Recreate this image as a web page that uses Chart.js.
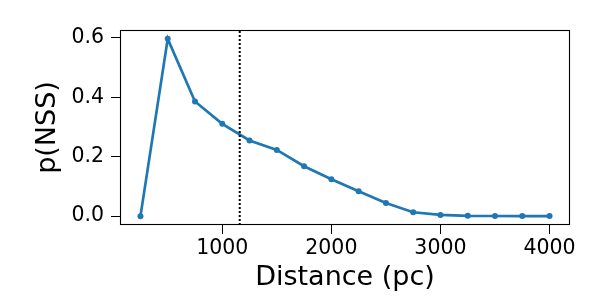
<!DOCTYPE html>
<html>
<head>
<meta charset="utf-8">
<script src="https://cdn.jsdelivr.net/npm/chart.js@4/dist/chart.umd.min.js"></script>
<style>
  html, body { margin: 0; padding: 0; background: #ffffff; }
  #wrap { width: 600px; height: 300px; }
</style>
</head>
<body>
<div id="wrap"><canvas id="c" width="600" height="300"></canvas></div>
<script>
// ---- data ----
const distances = [250, 500, 750, 1000, 1250, 1500, 1750, 2000, 2250, 2500, 2750, 3000, 3250, 3500, 3750, 4000];
const pNSS      = [0.0, 0.597, 0.386, 0.311, 0.255, 0.223, 0.168, 0.124, 0.084, 0.044, 0.013, 0.004, 0.001, 0.0005, 0.0003, 0.0002];
const thresholdDistance = 1160;
const xTickValues = [1000, 2000, 3000, 4000];
const yTickValues = [0.0, 0.2, 0.4, 0.6];
const xTitle = 'Distance (pc)';
const yTitle = 'p(NSS)';

// axis limits (matplotlib-like 5% margins)
const xMin = 62.5, xMax = 4187.5;
const yMin = -0.02985, yMax = 0.62685;

Chart.defaults.font.family = "'DejaVu Sans', sans-serif";
Chart.defaults.color = '#000000';

const framePlugin = {
  id: 'frame',
  afterDraw(chart) {
    const a = chart.chartArea, ctx = chart.ctx;
    ctx.save();
    ctx.strokeStyle = '#000000';
    ctx.lineWidth = 1.1;
    ctx.strokeRect(Math.round(a.left) + 0.5, Math.round(a.top) + 0.5, Math.round(a.right - a.left) - 1, Math.round(a.bottom - a.top) - 1);
    ctx.restore();
  }
};

const lineData = distances.map((d, i) => ({ x: d, y: pNSS[i] }));
const thresholdData = [{ x: thresholdDistance, y: yMin }, { x: thresholdDistance, y: yMax }];

new Chart(document.getElementById('c'), {
  type: 'line',
  data: {
    datasets: [
      {
        data: thresholdData,
        borderColor: '#000000',
        borderWidth: 2,
        borderDash: [2, 2],
        pointRadius: 0,
        fill: false,
        tension: 0
      },
      {
        data: lineData,
        borderColor: '#1f77b4',
        backgroundColor: '#1f77b4',
        borderWidth: 2.7,
        pointRadius: 3,
        pointBorderWidth: 0,
        pointBackgroundColor: '#1f77b4',
        fill: false,
        tension: 0
      }
    ]
  },
  options: {
    responsive: false,
    animation: false,
    events: [],
    layout: { padding: { left: 0, right: 30, top: 30, bottom: 0 } },
    plugins: { legend: { display: false }, tooltip: { enabled: false } },
    scales: {
      x: {
        type: 'linear',
        min: xMin,
        max: xMax,
        afterBuildTicks: (s) => { s.ticks = xTickValues.map(v => ({ value: v })); },
        afterFit: (s) => { s.height = 75; },
        grid: { drawOnChartArea: false, drawTicks: true, tickLength: 9, color: '#000000', tickWidth: 1 },
        border: { display: false },
        ticks: {
          font: { size: 20.5 },
          color: '#000000',
          padding: 2,
          maxRotation: 0,
          autoSkip: false,
          callback: (v) => String(v)
        },
        title: {
          display: true,
          text: xTitle,
          font: { size: 27 },
          color: '#000000',
          padding: { top: 0, bottom: 6 }
        }
      },
      y: {
        type: 'linear',
        min: yMin,
        max: yMax,
        afterBuildTicks: (s) => { s.ticks = yTickValues.map(v => ({ value: v })); },
        afterFit: (s) => { s.width = 120; },
        grid: { drawOnChartArea: false, drawTicks: true, tickLength: 9, color: '#000000', tickWidth: 1 },
        border: { display: false },
        ticks: {
          font: { size: 20.5 },
          color: '#000000',
          padding: 7,
          autoSkip: false,
          callback: (v) => Number(v).toFixed(1)
        },
        title: {
          display: true,
          text: yTitle,
          font: { size: 27 },
          color: '#000000',
          padding: { top: 32, bottom: 0 }
        }
      }
    }
  },
  plugins: [framePlugin]
});
</script>
</body>
</html>
